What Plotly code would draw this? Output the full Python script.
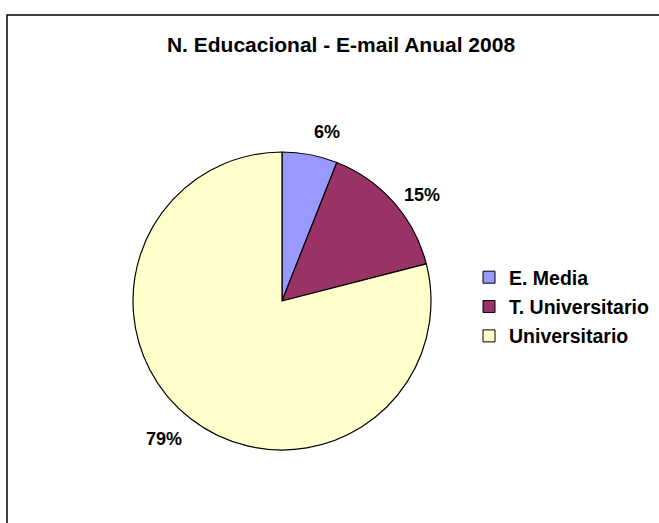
import math
import plotly.graph_objects as go

# Email subscribers by education level, 2008
categories = ["E. Media", "T. Universitario", "Universitario"]
shares = [6, 15, 79]
slice_colors = ["#9999FF", "#993366", "#FFFFCC"]

W, H = 659, 523
FONT = "Liberation Sans, Arial, sans-serif"

# pie placement in pixels (centre and radius)
CX, CY, R = 282, 301, 149
LABEL_GAP = 11

fig = go.Figure(
    go.Pie(
        labels=categories,
        values=shares,
        sort=False,
        direction="clockwise",
        rotation=0,
        marker=dict(colors=slice_colors, line=dict(color="#000000", width=1.2)),
        textinfo="none",
        hoverinfo="label+percent",
        showlegend=False,
        domain=dict(x=[(CX - R) / W, (CX + R) / W], y=[(H - CY - R) / H, (H - CY + R) / H]),
    )
)

# legend entries: one square swatch per category
for name, color in zip(categories, slice_colors):
    fig.add_trace(
        go.Scatter(
            x=[None],
            y=[None],
            mode="markers",
            name=name,
            legendgroup=name,
            marker=dict(symbol="square", size=12, color=color, line=dict(color="#000000", width=1)),
            hoverinfo="skip",
        )
    )

# percentage labels placed just outside each slice, at its mid-angle
total = sum(shares)
annotations = []
cum = 0.0
for v in shares:
    mid = (cum + v / 2) / total * 2 * math.pi
    cum += v
    dx, dy = math.sin(mid), -math.cos(mid)  # clockwise from 12 o'clock, screen y down
    px = CX + (R + LABEL_GAP) * dx
    py = CY + (R + LABEL_GAP) * dy
    if abs(dx) > abs(dy):
        yanchor = "middle"
    else:
        yanchor = "bottom" if dy < 0 else "top"
    annotations.append(
        dict(
            x=px / W,
            y=1 - py / H,
            xref="paper",
            yref="paper",
            text=f"<b>{round(v / total * 100)}%</b>",
            showarrow=False,
            xanchor="left" if dx >= 0 else "right",
            yanchor=yanchor,
            font=dict(family=FONT, size=18, color="#000000"),
        )
    )

fig.update_layout(
    width=W,
    height=H,
    margin=dict(l=0, r=0, t=0, b=0),
    paper_bgcolor="#FFFFFF",
    plot_bgcolor="#FFFFFF",
    font=dict(family=FONT, color="#000000"),
    xaxis=dict(visible=False),
    yaxis=dict(visible=False),
    title=dict(
        text="<b>N. Educacional - E-mail Anual 2008</b>",
        x=341 / W,
        xanchor="center",
        y=1 - 45 / H,
        yanchor="middle",
        font=dict(family=FONT, size=21, color="#000000"),
    ),
    legend=dict(
        x=469 / W,
        xanchor="left",
        y=1 - 258 / H,
        yanchor="top",
        font=dict(family=FONT, size=19.5, color="#000000", weight="bold"),
        bgcolor="rgba(0,0,0,0)",
        tracegroupgap=1,
        itemclick=False,
        itemdoubleclick=False,
    ),
    annotations=annotations,
    shapes=[
        dict(
            type="rect",
            xref="paper",
            yref="paper",
            x0=7 / W,
            x1=1.05,
            y0=-0.05,
            y1=1 - 15 / H,
            line=dict(color="#000000", width=1.5),
            fillcolor="rgba(0,0,0,0)",
        )
    ],
)

fig.write_html("out.html")
